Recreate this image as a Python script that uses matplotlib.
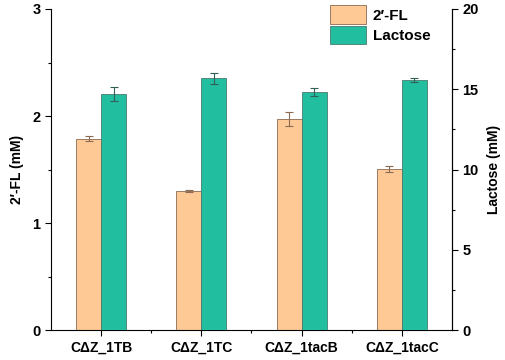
import numpy as np
import matplotlib.pyplot as plt
from matplotlib.ticker import MultipleLocator

plt.rcParams['font.family'] = ['Liberation Sans', 'DejaVu Sans']
plt.rcParams['font.weight'] = 'bold'

strains = ['C\u0394Z_1TB', 'C\u0394Z_1TC', 'C\u0394Z_1tacB', 'C\u0394Z_1tacC']
fl = [1.79, 1.30, 1.97, 1.505]
fl_err = [0.02, 0.01, 0.065, 0.027]
lac = [14.69, 15.69, 14.85, 15.58]
lac_err = [0.43, 0.35, 0.25, 0.13]

c_fl = '#FFC996'
c_lac = '#22BEA0'

fig = plt.figure(figsize=(5.05, 3.6), dpi=100)
ax = fig.add_axes([0.101, 0.083, 0.794, 0.892])
ax2 = ax.twinx()

x = np.arange(1, len(strains) + 1)
w = 0.25

b1 = ax.bar(x - w / 2, fl, w, color=c_fl, edgecolor='#8a6a50', linewidth=0.6,
            yerr=fl_err, capsize=3, error_kw=dict(ecolor='#8a6a50', elinewidth=0.8, capthick=0.8),
            label='2\u2032-FL')
b2 = ax2.bar(x + w / 2, lac, w, color=c_lac, edgecolor='#4a7a70', linewidth=0.6,
             yerr=lac_err, capsize=3, error_kw=dict(ecolor='#2f5f55', elinewidth=0.8, capthick=0.8),
             label='Lactose')

ax.set_xlim(0.5, 4.5)
ax.set_ylim(0, 3)
ax2.set_ylim(0, 20)
ax.set_xticks(x)
ax.set_xticklabels(strains, fontsize=10, fontweight='bold')
ax.set_xticks([1.5, 2.5, 3.5], minor=True)
ax.yaxis.set_major_locator(MultipleLocator(1))
ax.yaxis.set_minor_locator(MultipleLocator(0.5))
ax2.yaxis.set_major_locator(MultipleLocator(5))
ax2.yaxis.set_minor_locator(MultipleLocator(2.5))

for a in (ax, ax2):
    a.spines['top'].set_visible(False)
    for s in a.spines.values():
        s.set_linewidth(0.8)
    a.tick_params(which='major', length=4, width=0.8, labelsize=10.5)
    a.tick_params(which='minor', length=2, width=0.8)
ax.tick_params(axis='x', labelsize=10)
ax2.spines['left'].set_visible(False)
ax2.spines['bottom'].set_visible(False)

for lbl in ax.get_yticklabels() + ax2.get_yticklabels():
    lbl.set_fontweight('bold')

ax.set_ylabel('2\u2032-FL (mM)', fontsize=10, fontweight='bold', labelpad=6)
ax2.set_ylabel('Lactose (mM)', fontsize=10, fontweight='bold', labelpad=6, rotation=90)

leg = ax.legend(handles=[b1, b2], loc='upper left', bbox_to_anchor=(0.68, 1.03),
                frameon=False, fontsize=11, handlelength=2.4, handleheight=1.45,
                handletextpad=0.4, labelspacing=0.15, borderaxespad=0)
for t in leg.get_texts():
    t.set_fontweight('bold')

fig.savefig('out.png', dpi=100)
